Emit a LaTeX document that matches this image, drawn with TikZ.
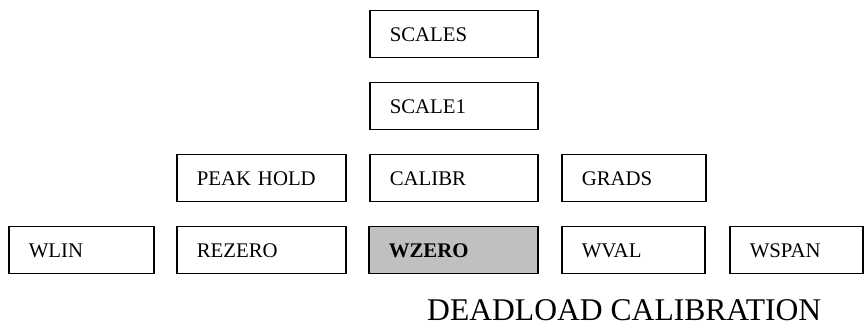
\documentclass[tikz,border=0pt]{standalone}
\usepackage{fontspec}
\setmainfont{Liberation Serif}
\definecolor{boxgray}{RGB}{192,192,192}
\tikzset{
  menubox/.style={draw=black, line width=1.5pt, anchor=north west,
    minimum height=47pt, inner xsep=20pt, inner ysep=0pt, align=left,
    text height=13.8pt, text depth=0pt,
    font=\fontsize{20.8}{24}\selectfont},
}
\begin{document}
\begin{tikzpicture}[x=1pt,y=1pt]
\useasboundingbox (0,0) rectangle (865,-328);
% top column
\node[menubox, text width=128pt] (scales) at (369,-10) {SCALES};
\node[menubox, text width=128pt] (scale1) at (369,-82) {SCALE1};
% third row
\node[menubox, text width=129pt] (peak) at (176,-154) {PEAK HOLD};
\node[menubox, text width=128pt] (calibr) at (369,-154) {CALIBR};
\node[menubox, text width=104pt] (grads) at (561,-154) {GRADS};
% bottom row
\node[menubox, text width=105pt] (wlin) at (8,-226) {WLIN};
\node[menubox, text width=129pt] (rezero) at (176,-226) {REZERO};
\node[menubox, text width=129pt, fill=boxgray, font=\fontsize{20.8}{24}\selectfont\bfseries] (wzero) at (368,-226) {WZERO};
\node[menubox, text width=103pt] (wval) at (561,-226) {WVAL};
\node[menubox, text width=93pt] (wspan) at (729,-226) {WSPAN};
% caption
\node[anchor=base west, inner sep=0pt, text depth=0pt, font=\fontsize{31.6}{36}\selectfont] (caption) at (427,-321) {DEADLOAD CALIBRATION};
\end{tikzpicture}
\end{document}
